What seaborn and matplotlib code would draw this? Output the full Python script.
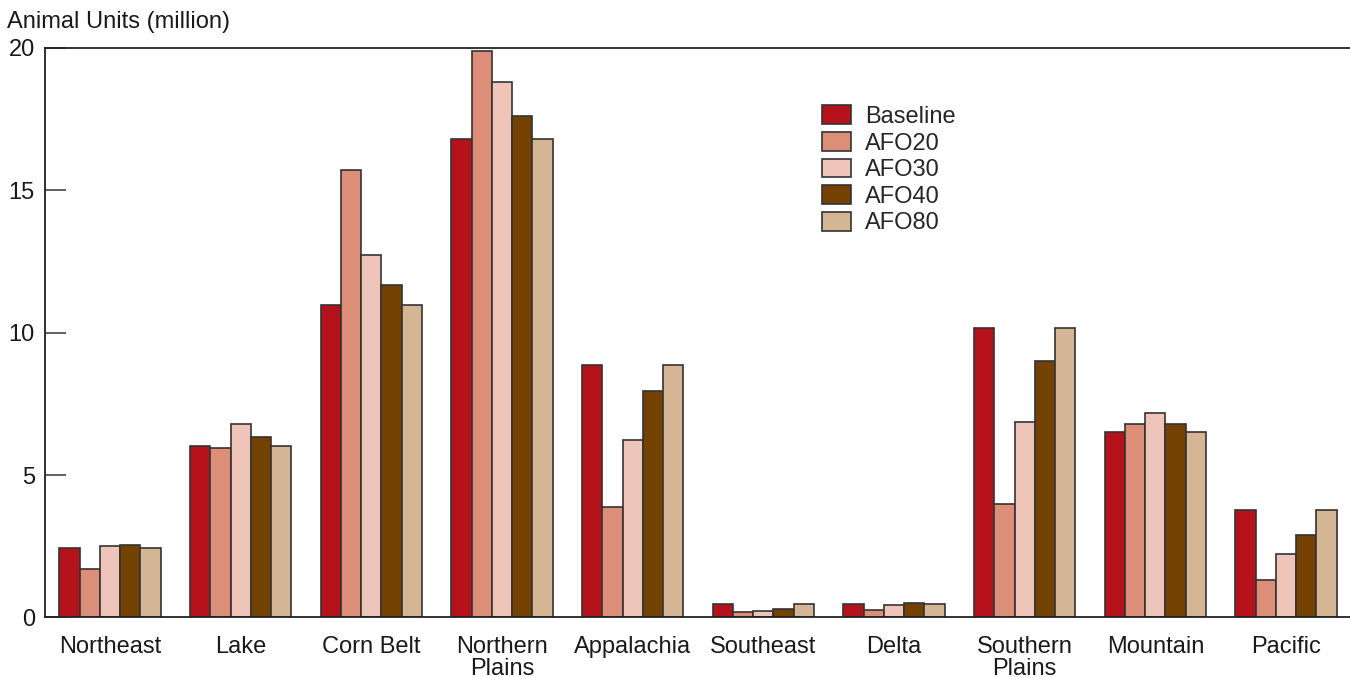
import matplotlib
matplotlib.use("Agg")
import matplotlib.pyplot as plt
import seaborn as sns
import pandas as pd

regions = ["Northeast", "Lake", "Corn Belt", "Northern\nPlains", "Appalachia",
           "Southeast", "Delta", "Southern\nPlains", "Mountain", "Pacific"]
scenarios = ["Baseline", "AFO20", "AFO30", "AFO40", "AFO80"]

baseline = [2.45, 6.03, 10.98, 16.80, 8.86, 0.47, 0.46, 10.15, 6.50, 3.78]
afo20    = [1.71, 5.94, 15.70, 19.88, 3.88, 0.20, 0.25, 3.97, 6.80, 1.30]
afo30    = [2.50, 6.79, 12.73, 18.79, 6.24, 0.24, 0.43, 6.87, 7.19, 2.23]
afo40    = [2.54, 6.34, 11.66, 17.60, 7.95, 0.30, 0.50, 9.01, 6.78, 2.89]
afo80    = [2.45, 6.03, 10.98, 16.80, 8.86, 0.47, 0.46, 10.15, 6.50, 3.78]

colors = ["#B5121B", "#DD8E78", "#EEC5B8", "#744200", "#D4B594"]

series = [baseline, afo20, afo30, afo40, afo80]
rows = []
for s, vals in zip(scenarios, series):
    for r, v in zip(regions, vals):
        rows.append({"Region": r, "Scenario": s, "Value": v})
df = pd.DataFrame(rows)

sns.set_theme(style="white")
plt.rcParams['font.family'] = ['Liberation Sans', 'DejaVu Sans']

fig = plt.figure(figsize=(13.5, 6.77), dpi=100)
ax = fig.add_axes([0.0331, 0.0879, 0.9669, 0.8419])

sns.barplot(data=df, x="Region", y="Value", hue="Scenario", order=regions,
            hue_order=scenarios, palette=colors, width=0.775, gap=0,
            edgecolor="#333333", linewidth=1.2, saturation=1, ax=ax)

ax.set_xlim(-0.5, 9.49)
ax.set_ylim(0, 20)
ax.set_yticks([0, 5, 10, 15, 20])
ax.set_xlabel("")
ax.set_ylabel("")

for side in ["left", "top", "bottom"]:
    ax.spines[side].set_visible(True)
    ax.spines[side].set_color("#222222")
    ax.spines[side].set_linewidth(1.3)
ax.spines["right"].set_visible(False)

ax.tick_params(axis="y", direction="in", length=15, width=1.3, color="#555555",
               labelsize=17, pad=7, left=True, labelcolor="#1a1a1a")
ax.tick_params(axis="x", length=0, labelsize=17, pad=13, labelcolor="#1a1a1a")
for lbl in ax.get_xticklabels():
    lbl.set_linespacing(1.0)

fig.text(0.005, 0.967, "Animal Units (million)", fontsize=17, color="#1a1a1a",
         ha="left", va="center")

leg = ax.legend(loc="upper left", bbox_to_anchor=(0.588, 0.915), frameon=False,
                fontsize=17, handlelength=1.25, handleheight=0.85,
                handletextpad=0.6, labelspacing=0.17, borderaxespad=0)
for h in leg.legend_handles:
    h.set_edgecolor("#333333")
    h.set_linewidth(1.2)

fig.savefig("out.png", dpi=100)
